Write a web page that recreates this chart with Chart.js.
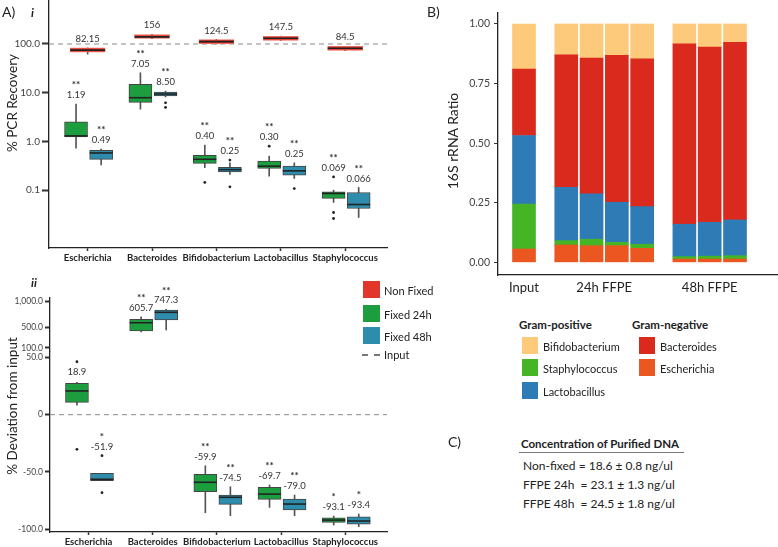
<!DOCTYPE html>
<html>
<head>
<meta charset="utf-8">
<script src="https://cdn.jsdelivr.net/npm/chart.js@4.4.1/dist/chart.umd.min.js"></script>
<style>
body{margin:0;width:778px;height:547px;position:relative;background:#fff;font-family:Lato,"Open Sans",sans-serif;overflow:hidden;color:#222}
canvas{position:absolute}
.t{position:absolute;white-space:nowrap;line-height:1;transform:translateY(-50%)}
.rot{position:absolute;white-space:nowrap;line-height:1;transform:translate(-50%,-50%) rotate(-90deg)}
.sw{position:absolute;width:16px;height:17px}
</style>
</head>
<body>
<canvas id="a1" width="390" height="265" style="left:0;top:0"></canvas>
<canvas id="a2top" width="390" height="70" style="left:0;top:282px"></canvas>
<canvas id="a2bot" width="390" height="202" style="left:0;top:345px"></canvas>
<canvas id="b" width="348" height="300" style="left:430px;top:0"></canvas>

<!-- panel letters and axis titles -->
<div class="t" style="left:2px;top:12px;font-size:14px">A)</div>
<div class="t" style="left:31px;top:13px;font-size:12px;font-style:italic;font-weight:bold">i</div>
<div class="t" style="left:31px;top:283px;font-size:12px;font-style:italic;font-weight:bold">ii</div>
<div class="t" style="left:427px;top:12px;font-size:14px">B)</div>
<div class="rot" style="left:13px;top:103px;font-size:13.5px">% PCR Recovery</div>
<div class="rot" style="left:13px;top:406px;font-size:13.5px">% Deviation from input</div>
<div class="rot" style="left:453px;top:141px;font-size:14px">16S rRNA Ratio</div>

<!-- legend A -->
<div id="legA"></div>
<!-- legend B -->
<div id="legB"></div>

<!-- C -->
<div class="t" style="left:448px;top:442px;font-size:14px">C)</div>
<div class="t" style="left:521px;top:444px;font-size:11.5px;font-weight:bold">Concentration of Purified DNA</div>
<div style="position:absolute;left:519px;top:452px;width:165px;height:1.3px;background:#777"></div>
<div class="t" style="left:523px;top:466px;font-size:12px">Non-fixed = 18.6 ± 0.8 ng/ul</div>
<div class="t" style="left:523px;top:485px;font-size:12px">FFPE 24h&nbsp; = 23.1 ± 1.3 ng/ul</div>
<div class="t" style="left:523px;top:504px;font-size:12px">FFPE 48h&nbsp; = 24.5 ± 1.8 ng/ul</div>

<script>
const taxa = ["Escherichia","Bacteroides","Bifidobacterium","Lactobacillus","Staphylococcus"];

// A-i  % PCR recovery, box stats per taxon: [min, q1, median, q3, max]
const recNonFixed = [[62,68,75,83,83],[128,130,140,157,158],[100,101,112,123,124],[118,119,131,144,145],[73,74,82,90,90]];
const recNonFixedLbl = ["82.15","156","124.5","147.5","84.5"];
const rec24 = [[0.73,1.24,1.3,2.53,5.85],[4.6,6.34,7.9,14.9,25.7],[0.29,0.354,0.43,0.52,0.84],[0.194,0.279,0.311,0.394,0.5],[0.056,0.0676,0.0855,0.0923,0.1]];
const rec24Out = [[],[],[0.144],[0.8],[0.187,0.0348,0.0262]];
const rec24Lbl = ["1.19","7.05","0.40","0.30","0.069"];
const rec24Sig = ["**","**","**","**","**"];
const rec48 = [[0.33,0.43,0.58,0.66,0.7],[8.2,8.55,9.4,10.3,10.8],[0.21,0.238,0.264,0.293,0.364],[0.174,0.203,0.249,0.311,0.364],[0.0275,0.042,0.0508,0.0897,0.1137]];
const rec48Out = [[],[6.2,5.0],[0.414,0.117],[0.108],[]];
const rec48Lbl = ["0.49","8.50","0.25","0.25","0.066"];
const rec48Sig = ["**","**","**","**","**"];

// A-ii  % deviation from input
const dev24 = [[8.4,10.8,20.7,27.4,28.3],[408,428,590,656,707],[-85.6,-67.3,-59.0,-52.1,-44.6],[-80.9,-73.9,-69.3,-63.4,-61.4],[-96.3,-94.0,-92.0,-90.0,-88.5]];
const dev24Out = [[46.2,-30.2],[],[],[],[]];
const dev24Lbl = ["18.9","605.7","-59.9","-69.7","-93.1"];
const dev24Sig = ["","**","**","**","*"];
const dev48 = [[-57.7,-57.7,-56.4,-51.2,-51.2],[447,643,793,838,852],[-88.2,-78.3,-72.1,-70.1,-62.9],[-88.2,-83.2,-78.0,-73.6,-70.1],[-97.8,-95.5,-92.8,-89.1,-86.7]];
const dev48Out = [[-35.8,-68.1],[],[],[],[]];
const dev48Lbl = ["-51.9","747.3","-74.5","-79.0","-93.4"];
const dev48Sig = ["*","**","**","**","*"];

const recTicks = [0.1,1,10,100];
const devTopTicks = [100,500,1000];
const devBotTicks = [-100,-50,0,50];
const inputRec = 100;
const inputDev = 0;

// B  16S rRNA ratio, one value per sample
const sampleGroups = ["Input","24h FFPE","48h FFPE"];
const groupSizes = [1,4,3];
const escherichia   = [0.056,0.073,0.070,0.070,0.059,0.014,0.014,0.014];
const staphylococcus= [0.188,0.018,0.027,0.014,0.017,0.010,0.012,0.014];
const lactobacillus = [0.288,0.224,0.190,0.168,0.158,0.136,0.142,0.150];
const bacteroides   = [0.279,0.556,0.570,0.616,0.620,0.757,0.735,0.745];
const bifidobacterium=[0.189,0.129,0.143,0.132,0.146,0.083,0.097,0.077];
const ratioTicks = [0,0.25,0.5,0.75,1];

const colNon = "#E2362A", col24 = "#1C9E3F", col48 = "#2E8DAC";
const taxCol = {Bifidobacterium:"#FDC97A",Staphylococcus:"#45B525",Lactobacillus:"#2F7BB6",Bacteroides:"#D92A1D",Escherichia:"#EB5621"};

// legends (html)
const legA = document.getElementById("legA");
[["Non Fixed",colNon,281],["Fixed 24h",col24,305],["Fixed 48h",col48,327]].forEach(([n,c,y])=>{
  legA.innerHTML += `<div class="sw" style="left:363px;top:${y}px;width:17px;background:${c}"></div>` +
    `<div class="t" style="left:384px;top:${y+9}px;font-size:11px">${n}</div>`;
});
legA.innerHTML += `<div style="position:absolute;left:362px;top:354px;width:18px;border-top:2px dashed #777"></div>` +
  `<div class="t" style="left:384px;top:354px;font-size:11px">Input</div>`;

const legB = document.getElementById("legB");
legB.innerHTML = `<div class="t" style="left:519px;top:325px;font-size:11.5px;font-weight:bold">Gram-positive</div>` +
  `<div class="t" style="left:632px;top:325px;font-size:11.5px;font-weight:bold">Gram-negative</div>`;
[["Bifidobacterium",522,337],["Staphylococcus",522,359],["Lactobacillus",522,382],["Bacteroides",639,337],["Escherichia",639,359]].forEach(([n,x,y])=>{
  legB.innerHTML += `<div class="sw" style="left:${x}px;top:${y}px;background:${taxCol[n]}"></div>` +
    `<div class="t" style="left:${x+21}px;top:${y+9}px;font-size:11px">${n}</div>`;
});

// box plot pieces from floating bars + scatter points
const boxSets = (stats, outl, off, width, fill, edge, keep) => {
  const idx = stats.map((s,i)=>i).filter(keep);
  const out = [];
  idx.forEach(i => (outl[i]||[]).forEach(v => out.push({x:i+1+off, y:v})));
  return [
    {type:"bar", data:idx.map(i=>({x:i+1+off, y:[stats[i][0],stats[i][4]]})), barThickness:1, backgroundColor:"#555", grouped:false, order:3},
    {type:"bar", data:idx.map(i=>({x:i+1+off, y:[stats[i][1],stats[i][3]]})), barThickness:width, backgroundColor:fill, borderColor:edge, borderWidth:1, borderSkipped:false, grouped:false, order:2},
    {type:"scatter", data:idx.map(i=>({x:i+1+off, y:stats[i][2]})), pointStyle:"line", pointRadius:width/2, borderColor:"#222", borderWidth:1.6, order:1},
    {type:"scatter", data:out, pointRadius:1.4, backgroundColor:"#222", borderWidth:0, order:0}
  ];
};

// value + significance labels above each box
const labelSets = (stats, outl, off, lbl, sig, keep) => stats.map((s,i)=>i).filter(keep).map(i => ({
  x:i+1+off, top:Math.max(stats[i][4], ...(outl[i]||[]).filter(v=>v>stats[i][4])), text:lbl[i], sig:sig[i]
}));

const boxLabels = {
  id:"boxLabels",
  afterDatasetsDraw(chart, args, opts){
    const ctx = chart.ctx, xs = chart.scales.x, ys = chart.scales.y;
    ctx.save();
    ctx.textAlign = "center";
    ctx.textBaseline = "middle";
    ctx.fillStyle = "#333";
    (opts.items||[]).forEach(it => {
      const px = xs.getPixelForValue(it.x);
      let py = ys.getPixelForValue(it.top) - 9;
      if(opts.minTop !== undefined) py = Math.max(py, chart.chartArea.top + opts.minTop);
      ctx.font = "9.5px Lato";
      ctx.fillText(it.text, px, py);
      if(it.sig){
        ctx.font = "bold 10px Lato";
        ctx.fillText(it.sig, px, py - 10);
      }
    });
    ctx.restore();
  }
};

// dashed "input" reference line
const refLine = {
  id:"refLine",
  beforeDatasetsDraw(chart, args, opts){
    if(opts.value === undefined) return;
    const y = chart.scales.y.getPixelForValue(opts.value), a = chart.chartArea;
    const ctx = chart.ctx;
    ctx.save();
    ctx.strokeStyle = "#8a8a8a";
    ctx.lineWidth = 1;
    ctx.setLineDash([5,4]);
    ctx.beginPath(); ctx.moveTo(a.left, y); ctx.lineTo(a.right, y); ctx.stroke();
    ctx.restore();
  }
};

const noPad = (s) => { s.paddingLeft = 0; s.paddingRight = 0; s.paddingTop = 0; s.paddingBottom = 0; };

const xScale = (show, labelY) => ({
  type:"linear", min:0.4, max:5.65, display:show, offset:false,
  afterBuildTicks:(s)=>{ s.ticks = taxa.map((t,i)=>({value:i+1})); },
  afterFit:(s)=>{ s.height = labelY; noPad(s); },
  ticks:{callback:(v)=>taxa[v-1], font:{family:"Lato", size:9.5, weight:"bold"}, color:"#222", padding:1, maxRotation:0, autoSkip:false},
  grid:{drawOnChartArea:false, offset:false, tickLength:3, tickWidth:1.5, color:"#333"},
  border:{color:"#222", width:1.3}
});

const yScale = (type, min, max, tickVals, fmt, w, fsize, tlen) => ({
  type:type, min:min, max:max,
  afterBuildTicks:(s)=>{ s.ticks = tickVals.map(v=>({value:v})); },
  afterFit:(s)=>{ s.width = w; noPad(s); },
  ticks:{callback:fmt, font:{family:"Lato", size:fsize}, color:"#444", padding:2},
  grid:{drawOnChartArea:false, tickLength:tlen, tickWidth:2, color:"#333"},
  border:{color:"#222", width:1.3}
});

const baseOpts = {responsive:false, animation:false, events:[]};
const all = () => true;

// A-i
new Chart(document.getElementById("a1"), {
  type:"bar",
  data:{datasets:[
    ...boxSets(recNonFixed, [], 0, 35, colNon, "#EE6A5E", all),
    ...boxSets(rec24, rec24Out, -0.18, 23, col24, "#444", all),
    ...boxSets(rec48, rec48Out, 0.21, 23, col48, "#444", all)
  ]},
  options:{...baseOpts,
    layout:{autoPadding:false, padding:{top:0, right:3, left:0, bottom:0}},
    scales:{
      x:xScale(true, 17),
      y:yScale("logarithmic", 0.0065, 800, recTicks, (v)=>v.toFixed(1), 49, 10, 7)
    },
    plugins:{legend:{display:false}, tooltip:{enabled:false},
      refLine:{value:inputRec},
      boxLabels:{items:[
        ...recNonFixed.map((s,i)=>({x:i+1, top:s[4], text:recNonFixedLbl[i], sig:""})),
        ...labelSets(rec24, rec24Out, -0.18, rec24Lbl, rec24Sig, all),
        ...labelSets(rec48, rec48Out, 0.21, rec48Lbl, rec48Sig, all)
      ]}
    }
  },
  plugins:[refLine, boxLabels]
});

// A-ii, split axis: upper part
const upper = (i) => dev24[i][2] > 100;
const lower = (i) => !upper(i);
new Chart(document.getElementById("a2top"), {
  type:"bar",
  data:{datasets:[
    ...boxSets(dev24, dev24Out, -0.18, 23, col24, "#444", upper),
    ...boxSets(dev48, dev48Out, 0.21, 23, col48, "#444", upper)
  ]},
  options:{...baseOpts,
    layout:{autoPadding:false, padding:{top:16, right:3, left:0, bottom:1}},
    scales:{
      x:xScale(false, 0),
      y:yScale("linear", 37, 1073, devTopTicks, (v)=>v.toLocaleString("en-US",{minimumFractionDigits:1}), 50, 8.5, 5)
    },
    plugins:{legend:{display:false}, tooltip:{enabled:false},
      boxLabels:{items:[
        ...labelSets(dev24, dev24Out, -0.18, dev24Lbl, dev24Sig, upper),
        ...labelSets(dev48, dev48Out, 0.21, dev48Lbl, dev48Sig, upper)
      ]}
    }
  },
  plugins:[boxLabels]
});

// A-ii, lower part
new Chart(document.getElementById("a2bot"), {
  type:"bar",
  data:{datasets:[
    ...boxSets(dev24, dev24Out, -0.18, 23, col24, "#444", lower),
    ...boxSets(dev48, dev48Out, 0.21, 23, col48, "#444", lower)
  ]},
  options:{...baseOpts,
    layout:{autoPadding:false, padding:{top:7, right:3, left:0, bottom:0}},
    scales:{
      x:xScale(true, 15),
      y:yScale("linear", -102.4, 54.7, devBotTicks, (v)=>v===0?"0":v.toFixed(1), 50, 8.5, 5)
    },
    plugins:{legend:{display:false}, tooltip:{enabled:false},
      refLine:{value:inputDev},
      boxLabels:{minTop:20, items:[
        ...labelSets(dev24, dev24Out, -0.18, dev24Lbl, dev24Sig, lower),
        ...labelSets(dev48, dev48Out, 0.21, dev48Lbl, dev48Sig, lower)
      ]}
    }
  },
  plugins:[refLine, boxLabels]
});

// B  stacked ratios
const gap = 0.67;
const barPos = [];
const groupMid = [];
let p = 0;
groupSizes.forEach((n,g)=>{
  const start = p;
  for(let k=0;k<n;k++){ barPos.push(p); p += 1; }
  groupMid.push(start + (n-1)/2);
  p += gap;
});
const stackSet = (name, vals) => ({
  label:name, data:vals.map((v,i)=>({x:barPos[i], y:v})),
  backgroundColor:taxCol[name], barThickness:23, borderWidth:0
});
new Chart(document.getElementById("b"), {
  type:"bar",
  data:{datasets:[
    stackSet("Escherichia", escherichia),
    stackSet("Staphylococcus", staphylococcus),
    stackSet("Lactobacillus", lactobacillus),
    stackSet("Bacteroides", bacteroides),
    stackSet("Bifidobacterium", bifidobacterium)
  ]},
  options:{...baseOpts,
    layout:{autoPadding:false, padding:{top:13, right:0, left:0, bottom:0}},
    scales:{
      x:{type:"linear", stacked:true, min:-1.028, max:10.04, offset:false,
        afterBuildTicks:(s)=>{ s.ticks = groupMid.map(v=>({value:v})); },
        afterFit:(s)=>{ s.height = 25; noPad(s); },
        ticks:{callback:(v,i)=>sampleGroups[i], font:{family:"Lato", size:13}, color:"#222", padding:5, maxRotation:0, autoSkip:false},
        grid:{display:false, drawTicks:false, offset:false},
        border:{color:"#222", width:1.3}
      },
      y:{stacked:true, min:-0.053, max:1.046,
        afterBuildTicks:(s)=>{ s.ticks = ratioTicks.map(v=>({value:v})); },
        afterFit:(s)=>{ s.width = 68; noPad(s); },
        ticks:{callback:(v)=>v.toFixed(2), font:{family:"Lato", size:10.5}, color:"#444", padding:4},
        grid:{drawOnChartArea:false, tickLength:4, color:"#333"},
        border:{color:"#222", width:1.3}
      }
    },
    plugins:{legend:{display:false}, tooltip:{enabled:false}}
  }
});
</script>
</body>
</html>
